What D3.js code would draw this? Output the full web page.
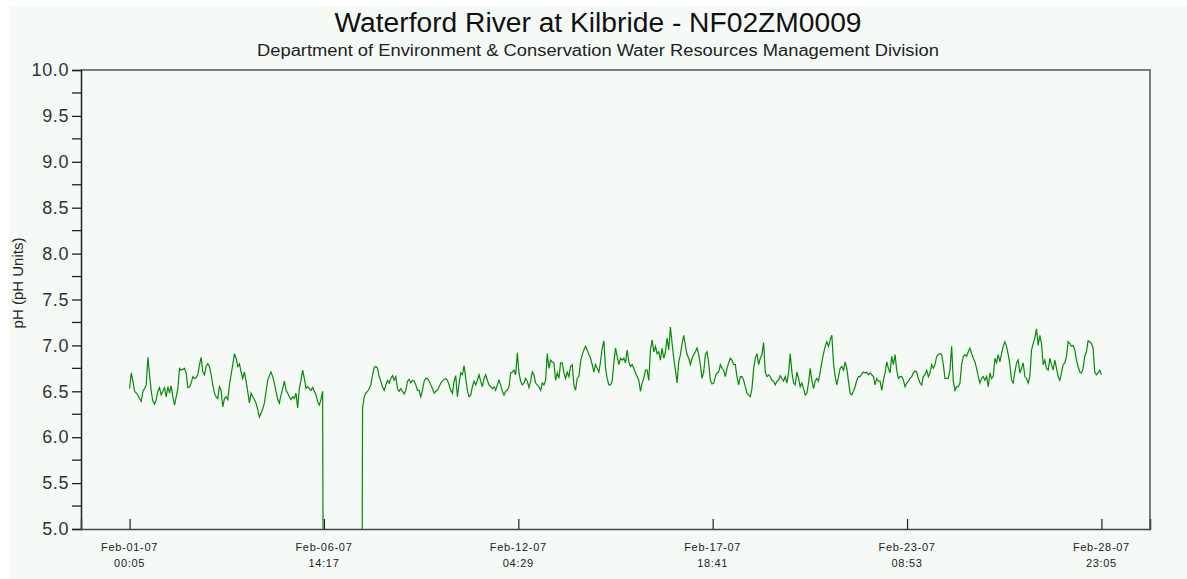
<!DOCTYPE html>
<html>
<head>
<meta charset="utf-8">
<script src="https://cdn.jsdelivr.net/npm/d3@7"></script>
<style>
  body { margin: 0; background: #fff; }
  svg { display: block; font-family: "Liberation Sans", Arial, sans-serif; }
</style>
</head>
<body>
<svg width="1187" height="579"></svg>
<script>
// logger readings, pH, evenly spaced between first and last stamp
var firstStamp = Date.UTC(2007, 1, 1, 0, 5);
var lastStamp = Date.UTC(2007, 1, 28, 23, 5);

var phSegA = [6.53,6.70,6.61,6.50,6.48,6.46,6.42,6.39,6.50,6.53,
  6.57,6.87,6.68,6.50,6.39,6.36,6.41,6.50,6.54,6.46,
  6.50,6.54,6.44,6.55,6.48,6.56,6.44,6.35,6.44,6.53,
  6.75,6.73,6.74,6.75,6.70,6.54,6.55,6.59,6.66,6.64,
  6.65,6.68,6.79,6.87,6.71,6.68,6.77,6.80,6.77,6.68,
  6.57,6.48,6.44,6.42,6.55,6.51,6.33,6.42,6.44,6.41,
  6.57,6.68,6.79,6.91,6.86,6.77,6.80,6.71,6.64,6.71,
  6.61,6.50,6.37,6.48,6.44,6.41,6.37,6.30,6.22,6.26,
  6.31,6.37,6.50,6.62,6.67,6.71,6.66,6.59,6.50,6.41,
  6.37,6.46,6.53,6.61,6.51,6.48,6.44,6.41,6.44,6.42,
  6.48,6.32,6.53,6.62,6.73,6.64,6.53,6.55,6.53,6.51,
  6.54,6.50,6.46,6.39];

// sensor dropped out Feb-06 -> readings off the bottom of the scale
var phSegB = [6.35,6.41,6.50,
  0,0,0,0,0,0,0,0,0,0,0,0,0,0,0,0,0,0,0,0,0,0,0,
  6.32,6.44,6.48,6.50,6.53,6.57,6.68,6.76,6.77,6.75,
  6.66,6.61,6.55,6.51,6.57,6.62,6.59,6.64,6.67,6.62,
  6.66,6.53,6.50,6.53,6.50,6.47,6.51,6.61,6.63,6.59,
  6.62,6.61,6.57,6.51,6.51,6.44,6.51,6.61,6.64,6.64,
  6.61,6.57,6.53,6.48,6.50,6.51,6.55,6.59,6.61,6.63,
  6.64,6.62,6.57,6.51,6.48,6.61,6.67,6.44,6.59,6.70,
  6.68,6.78,6.64,6.51,6.44,6.46,6.55,6.61,6.57,6.62,
  6.68,6.61,6.55,6.64,6.68,6.62,6.57,6.55,6.53,6.55,
  6.51,6.57,6.62,6.57,6.50,6.46,6.50,6.51,6.55,6.70,
  6.71];

var phSegC = [6.73,6.68,6.92,6.70,6.61,6.57,6.59,6.64,6.61,6.54,
  6.61,6.71,6.68,6.59,6.57,6.55,6.51,6.59,6.57,6.62,
  6.91,6.75,6.84,6.82,6.81,6.62,6.70,6.64,6.81,6.81,
  6.70,6.64,6.71,6.66,6.77,6.79,6.57,6.51,6.64,6.66,
  6.82,6.90,6.95,6.99,6.95,6.90,6.86,6.79,6.71,6.79,
  6.75,6.71,6.82,6.97,7.05,6.75,6.64,6.57,6.57,6.61,
  6.81,6.97,6.88,6.79,6.86,6.84,6.86,6.81,6.95,6.82,
  6.77,6.79,6.75,6.70,6.66,6.62,6.50,6.59,6.64,6.73,
  6.73,6.62,6.95,7.06,6.93,6.99,6.91,6.93,6.84,6.97,
  6.86,6.93,7.08,6.95,7.20,7.02,6.86,6.73,6.59,6.82,
  6.90,7.02,7.11,7.00,6.90,6.86,6.79,6.86,6.90,6.93,
  6.97,6.90,6.79,6.64,6.71,6.90,6.93];

var phSegD = [6.81,6.62,6.58,6.59,6.66,6.70,6.71,6.79,6.75,6.73,
  6.66,6.75,6.81,6.86,6.84,6.79,6.79,6.66,6.57,6.66,
  6.66,6.62,6.55,6.48,6.46,6.44,6.53,6.75,6.86,6.91,
  6.79,6.86,6.90,7.03,6.71,6.66,6.68,6.66,6.62,6.61,
  6.57,6.61,6.62,6.67,6.64,6.61,6.66,6.59,6.70,6.91,
  6.71,6.59,6.57,6.71,6.64,6.55,6.59,6.53,6.46,6.48,
  6.59,6.75,6.62,6.53,6.61,6.64,6.61,6.71,6.82,6.91,
  6.99,7.04,6.99,7.06,7.11,6.81,6.66,6.57,6.66,6.75,
  6.77,6.73,6.82,6.75,6.61,6.48,6.46,6.50,6.55,6.62,
  6.66,6.66,6.69,6.71,6.70,6.71,6.68,6.70,6.68,6.66,
  6.57,6.64,6.61,6.61,6.51,6.62,6.70,6.82,6.75,6.70,
  6.88,6.79,6.90,6.73,6.64,6.66,6.66];

var phSegE = [6.62,6.55,6.59,6.61,6.64,6.66,6.70,6.72,6.71,6.64,
  6.59,6.57,6.66,6.68,6.73,6.66,6.70,6.79,6.75,6.79,
  6.88,6.90,6.91,6.90,6.79,6.64,6.64,6.64,6.73,6.99,
  6.61,6.51,6.55,6.55,6.59,6.79,6.88,6.90,6.88,6.93,
  6.97,6.91,6.86,6.82,6.75,6.66,6.59,6.64,6.66,6.62,
  6.66,6.55,6.70,6.64,6.66,6.86,6.81,6.90,6.82,6.91,
  6.99,7.04,6.99,6.90,6.79,6.62,6.59,6.71,6.81,6.84,
  6.70,6.75,6.81,6.66,6.64,6.59,6.66,6.95,7.02,7.08,
  7.18,7.00,7.11,7.02,6.79,6.84,6.75,6.73,6.86,6.79,
  6.73,6.84,6.75,6.66,6.62,6.70,6.79,6.81,6.88,7.04,
  7.02,6.99,7.00,6.95,6.84,6.77,6.71,6.70,6.75,6.88,
  6.93,7.05,7.04,7.02,6.97,6.71,6.68,6.70,6.73,6.68];

var yTicks = [5.0,5.5,6.0,6.5,7.0,7.5,8.0,8.5,9.0,9.5,10.0];
var titleText = "Waterford River at Kilbride - NF02ZM0009";
var subtitleText = "Department of Environment & Conservation Water Resources Management Division";
var yLabel = "pH (pH Units)";

var phAll = phSegA.concat(phSegB, phSegC, phSegD, phSegE);
var step = (lastStamp - firstStamp) / (phAll.length - 1);
var readings = phAll.map(function(v, i) {
  return { t: new Date(firstStamp + i * step), v: v };
});

var svg = d3.select("svg");
var L = 81, R = 1150, T = 70, B = 529;

// pale panel behind everything
svg.append("rect").attr("x", 9).attr("y", 7).attr("width", 1178).attr("height", 572)
  .attr("fill", "#f5faf7");

var span = lastStamp - firstStamp;
var pad = span / 5 / 4;
var x = d3.scaleUtc()
  .domain([new Date(firstStamp - pad), new Date(lastStamp + pad)])
  .range([L, R]);
var y = d3.scaleLinear().domain([5, 10]).range([B, T]);

var xTickVals = d3.range(6).map(function(k) { return new Date(firstStamp + k * span / 5); });

svg.append("defs").append("clipPath").attr("id", "plotclip")
  .append("rect").attr("x", L).attr("y", T).attr("width", R - L).attr("height", B - T);

// line
var line = d3.line().x(function(d) { return x(d.t); }).y(function(d) { return y(d.v); });
svg.append("path").datum(readings)
  .attr("clip-path", "url(#plotclip)")
  .attr("fill", "none")
  .attr("stroke", "#078a07")
  .attr("stroke-width", 1.2)
  .attr("d", line);

// frame top/right
svg.append("path").attr("d", "M" + L + "," + T + "H" + R + "V" + B)
  .attr("fill", "none").attr("stroke", "#555").attr("stroke-width", 1.5);

// y axis
var yAxis = d3.axisLeft(y).tickValues(yTicks).tickSize(9).tickPadding(3)
  .tickFormat(d3.format(".1f"));
var gy = svg.append("g").attr("transform", "translate(" + L + ",0)").call(yAxis);
gy.select(".domain").attr("stroke", "#222").attr("stroke-width", 1.5);
gy.selectAll(".tick line").attr("stroke", "#222").attr("stroke-width", 1.3);
gy.selectAll(".tick text").attr("font-size", 18).attr("fill", "#333")
  .attr("letter-spacing", 0.6)
  .attr("font-family", "Liberation Sans, Arial, sans-serif");

// minor y ticks
var minor = d3.range(5.25, 10, 0.5);
svg.append("g").selectAll("line").data(minor).enter().append("line")
  .attr("x1", L - 9).attr("x2", L).attr("y1", function(d) { return y(d); }).attr("y2", function(d) { return y(d); })
  .attr("stroke", "#222").attr("stroke-width", 1.3);

// x axis, ticks point up into the plot
var xAxis = d3.axisBottom(x).tickValues(xTickVals).tickSize(-10).tickFormat("");
var gx = svg.append("g").attr("transform", "translate(0," + B + ")").call(xAxis);
gx.select(".domain").attr("stroke", "#444").attr("stroke-width", 1.6);
gx.selectAll(".tick line").attr("stroke", "#222").attr("stroke-width", 1.2);

var fmtDay = d3.utcFormat("%b-%d-%y"), fmtTime = d3.utcFormat("%H:%M");
var lbl = svg.append("g").selectAll("text").data(xTickVals).enter().append("text")
  .attr("x", function(d) { return x(d); })
  .attr("text-anchor", "middle")
  .attr("font-size", 11)
  .attr("letter-spacing", 0.7)
  .attr("fill", "#222");
lbl.append("tspan").attr("x", function(d) { return x(d); }).attr("y", 551).text(function(d) { return fmtDay(d); });
lbl.append("tspan").attr("x", function(d) { return x(d); }).attr("y", 567).text(function(d) { return fmtTime(d); });

// titles
svg.append("text").attr("x", 598).attr("y", 32).attr("text-anchor", "middle")
  .attr("font-size", 27).attr("fill", "#111")
  .attr("textLength", 527).attr("lengthAdjust", "spacingAndGlyphs").text(titleText);
svg.append("text").attr("x", 598).attr("y", 56).attr("text-anchor", "middle")
  .attr("font-size", 16).attr("fill", "#222")
  .attr("textLength", 682).attr("lengthAdjust", "spacingAndGlyphs").text(subtitleText);

svg.append("text")
  .attr("transform", "translate(23,283) rotate(-90)")
  .attr("text-anchor", "middle")
  .attr("font-size", 15).attr("fill", "#222").text(yLabel);
</script>
</body>
</html>
